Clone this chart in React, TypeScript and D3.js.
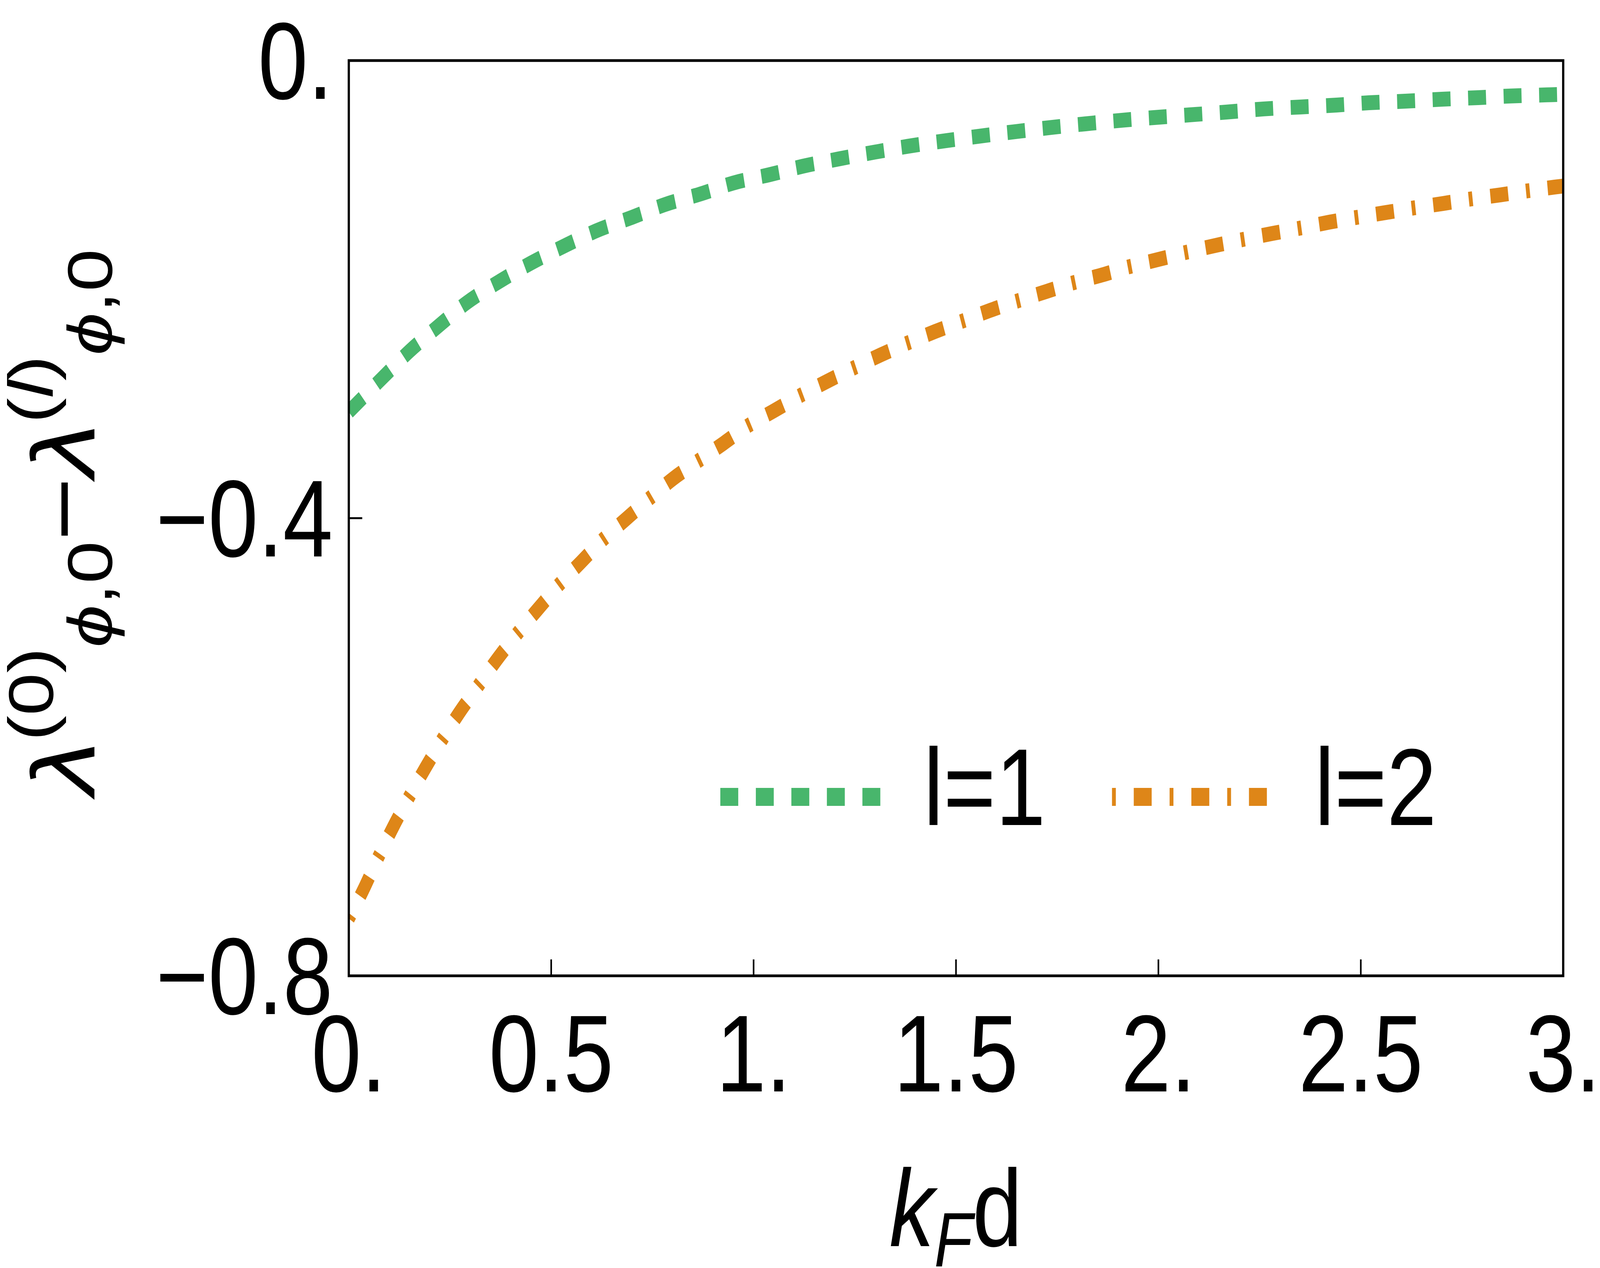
import * as d3 from 'd3';

// l = 1 curve
const l1Kd = [0, 0.08, 0.15, 0.22, 0.29, 0.37, 0.45, 0.53, 0.61, 0.7, 0.78, 0.87, 0.95, 1.04, 1.12, 1.21, 1.3, 1.38, 1.47, 1.56, 1.65, 1.73, 1.82, 1.91, 2.08, 2.17, 2.26, 2.35, 2.44, 2.52, 2.61, 2.7, 2.79, 2.87, 2.96, 3.0];
const l1Val = [-0.307, -0.2785, -0.254, -0.2325, -0.212, -0.1935, -0.177, -0.1625, -0.149, -0.137, -0.126, -0.1165, -0.107, -0.0997, -0.0925, -0.086, -0.08, -0.075, -0.0703, -0.066, -0.062, -0.0587, -0.0553, -0.0522, -0.0474, -0.045, -0.0423, -0.0406, -0.0389, -0.0369, -0.0355, -0.0338, -0.0324, -0.031, -0.03, -0.0295];

// l = 2 curve
const l2Kd = [0, 0.037, 0.072, 0.108, 0.147, 0.188, 0.229, 0.273, 0.319, 0.366, 0.416, 0.466, 0.518, 0.572, 0.627, 0.685, 0.742, 0.801, 0.863, 0.926, 0.985, 1.051, 1.117, 1.181, 1.248, 1.314, 1.381, 1.448, 1.517, 1.584, 1.653, 1.722, 1.792, 1.861, 1.93, 2.002, 2.069, 2.139, 2.21, 2.281, 2.351, 2.422, 2.493, 2.563, 2.633, 2.704, 2.775, 2.845, 2.916, 2.979, 3.0];
const l2Val = [-0.75, -0.724, -0.697, -0.671, -0.645, -0.619, -0.5945, -0.57, -0.547, -0.5235, -0.501, -0.48, -0.4587, -0.439, -0.419, -0.4007, -0.383, -0.3655, -0.35, -0.3345, -0.3195, -0.306, -0.2925, -0.2805, -0.2686, -0.2573, -0.2468, -0.2369, -0.2276, -0.2184, -0.21, -0.202, -0.194, -0.1874, -0.18, -0.1737, -0.1676, -0.1618, -0.1563, -0.1512, -0.1464, -0.1413, -0.1369, -0.1328, -0.1287, -0.1249, -0.1208, -0.1174, -0.1137, -0.1106, -0.1097];

const xTicks = [0, 0.5, 1, 1.5, 2, 2.5, 3];
const xTickLabels = ['0.', '0.5', '1.', '1.5', '2.', '2.5', '3.'];
const yTicks = [0, -0.4, -0.8];
const yTickLabels = ['0.', '\u22120.4', '\u22120.8'];

const seriesNames = ['l=1', 'l=2'];

const W = 5000;
const H = 3246;
const frame = { left: 1090, right: 4885, top: 155, bottom: 2498 };
const FONT = '"Liberation Sans", Arial, sans-serif';
const GREEN = '#48b66c';
const ORANGE = '#de8618';

export default function App() {
  const x = d3.scaleLinear().domain([0, 3]).range([frame.left, frame.right]);
  const y = d3.scaleLinear().domain([-0.8, 0]).range([frame.bottom, frame.top]);

  const path = d3
    .line<[number, number]>()
    .x((d) => x(d[0]))
    .y((d) => y(d[1]))
    .curve(d3.curveMonotoneX);

  const s1 = l1Kd.map((k, i) => [k, l1Val[i]] as [number, number]);
  const s2 = l2Kd.map((k, i) => [k, l2Val[i]] as [number, number]);

  const legendY = 2040;

  return (
    <svg
      viewBox={`0 0 ${W} ${H}`}
      preserveAspectRatio="none"
      style={{ position: 'fixed', left: 0, top: 0, width: '100vw', height: '100vh', background: '#fff', display: 'block' }}
      fontFamily={FONT}
    >
      <defs>
        <clipPath id="plot-clip">
          <rect
            x={frame.left}
            y={frame.top}
            width={frame.right - frame.left}
            height={frame.bottom - frame.top}
          />
        </clipPath>
      </defs>

      <g clipPath="url(#plot-clip)">
        <path d={path(s1) || ''} fill="none" stroke={GREEN} strokeWidth={38} strokeDasharray="56,55" />
        <path d={path(s2) || ''} fill="none" stroke={ORANGE} strokeWidth={38} strokeDasharray="12,56,56,56" />
      </g>

      {/* frame */}
      <rect
        x={frame.left}
        y={frame.top}
        width={frame.right - frame.left}
        height={frame.bottom - frame.top}
        fill="none"
        stroke="#000"
        strokeWidth={7}
      />

      {/* x ticks */}
      {xTicks.map((t, i) => (
        <g key={'x' + t}>
          <line x1={x(t)} x2={x(t)} y1={frame.bottom} y2={frame.bottom - 42} stroke="#000" strokeWidth={5} />
          <text x={x(t)} y={2794} textAnchor="middle" fontSize={280}>
            {xTickLabels[i]}
          </text>
        </g>
      ))}

      {/* y ticks */}
      {yTicks.map((t, i) => (
        <g key={'y' + t}>
          <line x1={frame.left} x2={frame.left + 42} y1={y(t)} y2={y(t)} stroke="#000" strokeWidth={5} />
          <text x={1040} y={y(t) + 98} textAnchor="end" fontSize={280}>
            {yTickLabels[i]}
          </text>
        </g>
      ))}

      {/* x label */}
      <text x={2987} y={3190} textAnchor="middle" fontSize={280}>
        <tspan fontStyle="italic">k</tspan>
        <tspan fontStyle="italic" fontSize={196} dy={52}>F</tspan>
        <tspan dy={-52}>d</tspan>
      </text>

      {/* y label */}
      <text transform="translate(295,1336) rotate(-90)" textAnchor="middle" fontSize={280}>
        <tspan fontStyle="italic">λ</tspan>
        <tspan fontSize={196} dy={-130}>(0)</tspan>
        <tspan fontSize={196} dy={184} fontStyle="italic">ϕ</tspan>
        <tspan fontSize={196}>,0</tspan>
        <tspan dy={-54}>{'\u2212'}</tspan>
        <tspan fontStyle="italic">λ</tspan>
        <tspan fontSize={196} dy={-130}>(</tspan>
        <tspan fontSize={196} fontStyle="italic">l</tspan>
        <tspan fontSize={196}>)</tspan>
        <tspan fontSize={196} dy={184} fontStyle="italic">ϕ</tspan>
        <tspan fontSize={196}>,0</tspan>
      </text>

      {/* legend */}
      <line x1={2251} x2={2751} y1={legendY} y2={legendY} stroke={GREEN} strokeWidth={46} strokeDasharray="56,55" />
      <text x={2886} y={2112} fontSize={280}>{seriesNames[0]}</text>
      <line x1={3475} x2={3960} y1={legendY} y2={legendY} stroke={ORANGE} strokeWidth={46} strokeDasharray="12,56,56,56" />
      <text x={4108} y={2112} fontSize={280}>{seriesNames[1]}</text>
    </svg>
  );
}
